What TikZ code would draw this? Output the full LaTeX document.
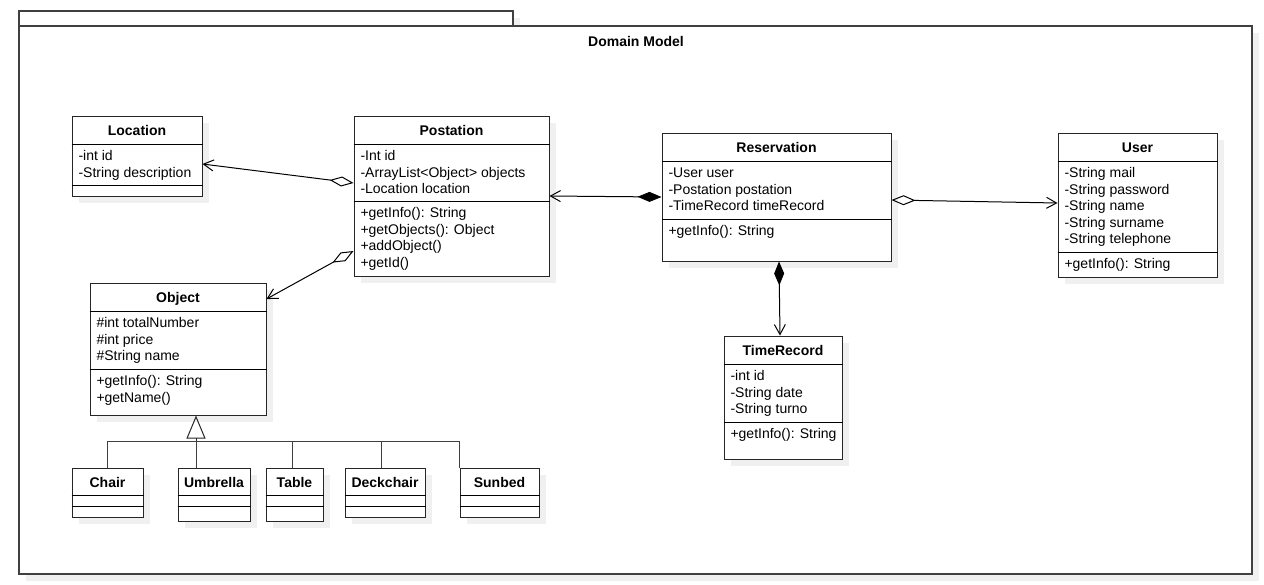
\documentclass[tikz,border=0pt]{standalone}
\usepackage{fontspec}
\setmainfont{Liberation Sans}
\usetikzlibrary{arrows.meta,shadows,positioning}

\begin{document}
\begin{tikzpicture}[x=1pt,y=-1pt,line width=1pt]
  \tikzstyle{cls}=[draw=black!85, fill=white, inner sep=0, drop shadow={shadow xshift=7pt,shadow yshift=-7pt,fill=black!6,opacity=1}]
  \tikzstyle{pkgbox}=[cls, draw=black!75, line width=1.3pt]
  \tikzstyle{title}=[font=\fontsize{14}{16.6}\selectfont\bfseries, anchor=base, inner sep=0]
  \tikzstyle{attr}=[font=\fontsize{14}{16.6}\selectfont, anchor=north west, inner sep=0, align=left]
  \tikzstyle{agg}=[{Diamond[open,length=24pt,width=10pt]}-{Straight Barb[length=10pt,width=11pt]}]
  \tikzstyle{comp}=[{Diamond[length=24pt,width=10pt]}-{Straight Barb[length=10pt,width=11pt]}]
  \useasboundingbox (0,0) rectangle (1264,584);

  % package
  \node[pkgbox, minimum width=494pt, minimum height=15pt] (tab) at (266,18.5) {};
  \node[pkgbox, minimum width=1233pt, minimum height=548pt] (pkg) at (635.5,300) {};
  \node[title] (pkgname) at (636,46) {Domain Model};

  % Location
  \node[cls, minimum width=130pt, minimum height=80pt] (loc) at (137,156) {};
  \draw (loc.west |- 0,144) -- (loc.east |- 0,144);
  \draw (loc.west |- 0,185) -- (loc.east |- 0,185);
  \node[title] (loc-t) at (137,135) {Location};
  \node[attr] (loc-a) at (78,148.4) {\strut-int id\\-String description};

  % Postation
  \node[cls, minimum width=195pt, minimum height=160pt] (pos) at (451.5,196) {};
  \draw (pos.west |- 0,144) -- (pos.east |- 0,144);
  \draw (pos.west |- 0,201) -- (pos.east |- 0,201);
  \node[title] (pos-t) at (451.5,135) {Postation};
  \node[attr] (pos-a) at (360,148.4) {\strut-Int id\\-ArrayList<Object> objects\\-Location location};
  \node[attr] (pos-m) at (360,205.4) {\strut+getInfo(): String\\+getObjects(): Object\\+addObject()\\+getId()};

  % Reservation
  \node[cls, minimum width=229pt, minimum height=128pt] (res) at (776.5,197) {};
  \draw (res.west |- 0,161) -- (res.east |- 0,161);
  \draw (res.west |- 0,219) -- (res.east |- 0,219);
  \node[title] (res-t) at (776.5,152) {Reservation};
  \node[attr] (res-a) at (668,165.4) {\strut-User user\\-Postation postation\\-TimeRecord timeRecord};
  \node[attr] (res-m) at (668,223.4) {\strut+getInfo(): String};

  % User
  \node[cls, minimum width=159pt, minimum height=144pt] (usr) at (1137.5,205) {};
  \draw (usr.west |- 0,161) -- (usr.east |- 0,161);
  \draw (usr.west |- 0,252) -- (usr.east |- 0,252);
  \node[title] (usr-t) at (1137.5,152) {User};
  \node[attr] (usr-a) at (1064,165.4) {\strut-String mail\\-String password\\-String name\\-String surname\\-String telephone};
  \node[attr] (usr-m) at (1064,256.4) {\strut+getInfo(): String};

  % Object
  \node[cls, minimum width=176pt, minimum height=132pt] (obj) at (178,349) {};
  \draw (obj.west |- 0,311) -- (obj.east |- 0,311);
  \draw (obj.west |- 0,369) -- (obj.east |- 0,369);
  \node[title] (obj-t) at (178,302) {Object};
  \node[attr] (obj-a) at (96,315.4) {\strut\#int totalNumber\\\#int price\\\#String name};
  \node[attr] (obj-m) at (96,373.4) {\strut+getInfo(): String\\+getName()};

  % TimeRecord
  \node[cls, minimum width=118pt, minimum height=123pt] (tr) at (783,397.5) {};
  \draw (tr.west |- 0,364) -- (tr.east |- 0,364);
  \draw (tr.west |- 0,422) -- (tr.east |- 0,422);
  \node[title] (tr-t) at (783,355) {TimeRecord};
  \node[attr] (tr-a) at (730,368.4) {\strut-int id\\-String date\\-String turno};
  \node[attr] (tr-m) at (730,426.4) {\strut+getInfo(): String};

  % subclasses of Object
  \foreach \n/\t/\cx/\w/\h in {chair/Chair/107.5/71/49, umb/Umbrella/214/72/53, tbl/Table/294.5/57/53, deck/Deckchair/385/80/49, sun/Sunbed/499.5/79/49}{
    \node[cls, minimum width=\w pt, minimum height=\h pt] (\n) at (\cx,{468+\h/2}) {};
    \draw (\n.west |- 0,495) -- (\n.east |- 0,495);
    \draw (\n.west |- 0,506) -- (\n.east |- 0,506);
    \node[title] (\n-t) at (\cx,487) {\t};
  }

  % generalization
  \coordinate (gen) at (196,441);
  \draw[black!75] (chair.north) |- (gen);
  \draw[black!75] ([xshift=-18pt]umb.north) -- (gen);
  \draw[black!75] ([xshift=-2pt]tbl.north) |- (gen);
  \draw[black!75] ([xshift=-4pt]deck.north) |- (gen);
  \draw[black!75] (sun.north west) |- (gen);
  \draw[black!85, -{Triangle[open,length=23pt,width=19pt]}] (gen) -- ([xshift=18pt]obj.south);

  % associations
  \draw[agg] ([yshift=13pt]pos.west) -- ([yshift=-8pt]loc.east);
  \draw[agg] ([yshift=-55pt]pos.west) -- ([yshift=50pt]obj.east);
  \draw[comp] (res.west) -- (pos.east);
  \draw[agg] ([yshift=-3pt]res.east) -- ([yshift=2pt]usr.west);
  \draw[comp] ([xshift=2.5pt]res.south) -- ([xshift=-3pt]tr.north);
\end{tikzpicture}
\end{document}
